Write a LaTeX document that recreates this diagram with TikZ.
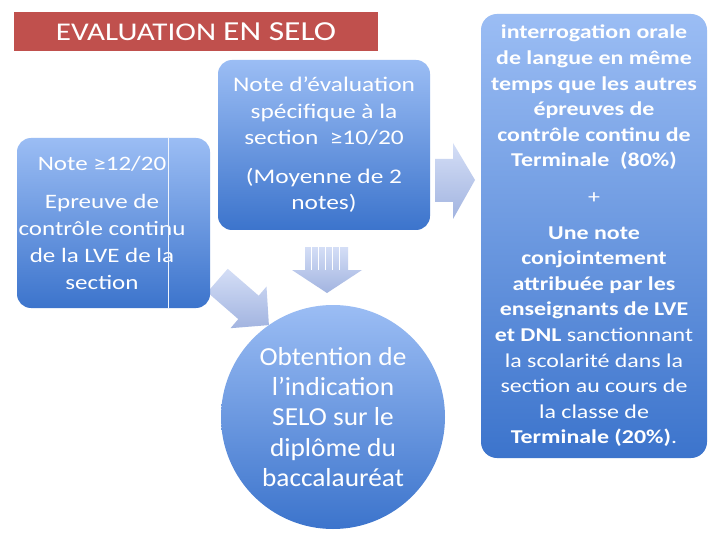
\documentclass[tikz,border=0pt]{standalone}
\usepackage{fontspec}
\setmainfont{Carlito}[FakeStretch=1.22]
\newfontfamily\rondfont{Carlito}[FakeStretch=1.05]
\definecolor{selored}{RGB}{192,80,77}
\definecolor{boxtop}{RGB}{155,189,244}
\definecolor{boxbot}{RGB}{60,116,204}
\definecolor{arrtop}{RGB}{212,222,246}
\definecolor{arrbot}{RGB}{162,180,224}
\tikzset{
    bluebox/.style={rectangle,rounded corners=14pt,top color=boxtop,bottom color=boxbot,
        text=white,align=center,inner sep=0pt},
    blockarrow/.style={top color=arrtop,bottom color=arrbot,draw=none},
}
\begin{document}
\begin{tikzpicture}[x=1pt,y=-1pt]
        \useasboundingbox[fill=white] (0,0) rectangle (720,540);
        % titre
        \node[fill=selored,text=white,minimum width=364pt,minimum height=39pt,inner sep=0pt]
            (titre) at (196,31.5) {\fontsize{25.5}{28}\selectfont EVALUATION \fontsize{27.5}{28}\selectfont EN SELO};
        % fleches
        \draw[blockarrow] (435,159)--(453,159)--(453,143)--(475,180)--(453,219)--(453,202)--(435,202)--cycle;
        \draw[blockarrow] (305,247)--(348,247)--(348,270)--(362,270)--(327,293)--(292,270)--(305,270)--cycle;
        \foreach \x in {311,318,325,332,339}
        {
            \draw[white,line width=.8pt] (\x,247)--(\x,270);
        }
        \draw[blockarrow] (207.3,292.2)--(227.7,268.8)--(258.7,295.7)--(266.5,286.6)--(268.9,325.1)
            --(230.5,328.2)--(238.3,319.1)--cycle;
        % boites
        \node[bluebox,minimum width=193pt,minimum height=170pt] (lve) at (113.5,223) {};
        \node[text=white,align=center,inner sep=0pt,font=\fontsize{20.5}{26.8}\selectfont] (lvetxt) at (102,223)
            {Note ≥12/20\\[11pt]Epreuve de\\contrôle continu\\de la LVE de la\\section};
        \draw[white!85!boxtop,line width=.6pt] (lve.north west)++(151,0)--++(0,170);
        \node[bluebox,minimum width=212pt,minimum height=170pt,font=\fontsize{20.8}{26.5}\selectfont] (spec) at (324,145)
            {Note d’évaluation\\spécifique à la\\section~~≥10/20\\[12pt](Moyenne de 2\\notes)};
        \node[bluebox,minimum width=226pt,minimum height=444pt,rounded corners=16pt,font=\fontsize{19.6}{25.6}\selectfont] (oral) at (594,236)
            {\textbf{interrogation orale}\\\textbf{de langue en même}\\\textbf{temps que les autres}\\\textbf{épreuves de}\\
            \textbf{contrôle continu de}\\\textbf{Terminale~~(80\%)}\\[10.5pt]
            +\\[10.5pt]
            \textbf{Une note}\\\textbf{conjointement}\\\textbf{attribuée par les}\\\textbf{enseignants de LVE}\\
            \textbf{et DNL} sanctionnant\\la scolarité dans la\\section au cours de\\la classe de\\\textbf{Terminale (20\%)}.};
        \node[circle,top color=boxtop,bottom color=boxbot,text=white,align=center,minimum size=224pt,inner sep=0pt,
            font=\rondfont\fontsize{26}{30.3}\selectfont] (selo) at (333,417)
            {Obtention de\\l’indication\\SELO sur le\\diplôme du\\baccalauréat};
    \end{tikzpicture}
\end{document}
